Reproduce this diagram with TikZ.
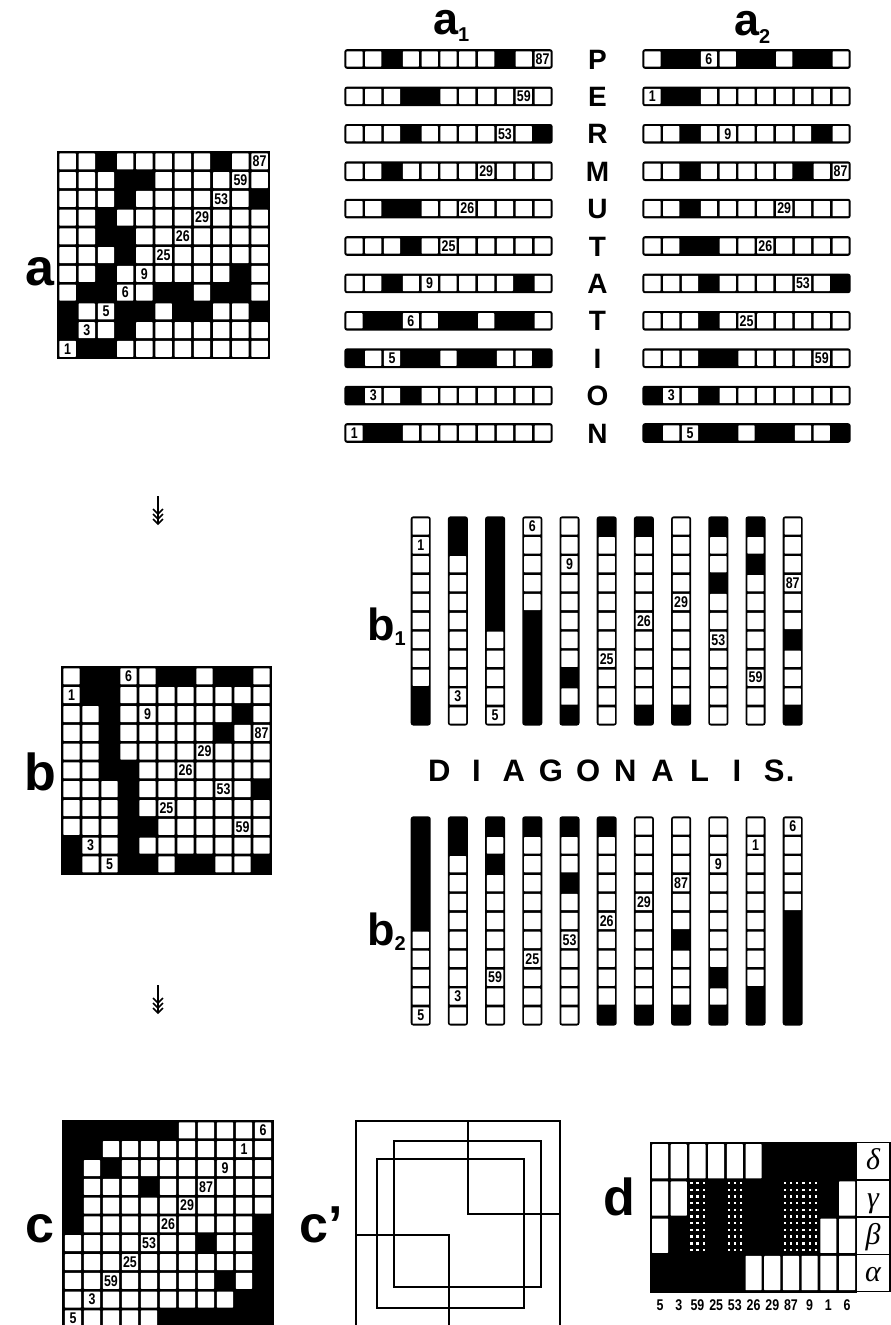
\documentclass[tikz,border=0pt]{standalone}
\usepackage{fontspec}
\setmainfont{Liberation Sans}
\newfontfamily\numfont[FakeStretch=0.8]{Liberation Sans}
\newfontfamily\grkfont{Liberation Serif}
\def\Adata{{0,0,1,0,0,0,0,0,1,0,0},{0,0,0,1,1,0,0,0,0,0,0},{0,0,0,1,0,0,0,0,0,0,1},{0,0,1,0,0,0,0,0,0,0,0},{0,0,1,1,0,0,0,0,0,0,0},{0,0,0,1,0,0,0,0,0,0,0},{0,0,1,0,0,0,0,0,0,1,0},{0,1,1,0,0,1,1,0,1,1,0},{1,0,0,1,1,0,1,1,0,0,1},{1,0,0,1,0,0,0,0,0,0,0},{0,1,1,0,0,0,0,0,0,0,0}}
\def\Bdata{{0,1,1,0,0,1,1,0,1,1,0},{0,1,1,0,0,0,0,0,0,0,0},{0,0,1,0,0,0,0,0,0,1,0},{0,0,1,0,0,0,0,0,1,0,0},{0,0,1,0,0,0,0,0,0,0,0},{0,0,1,1,0,0,0,0,0,0,0},{0,0,0,1,0,0,0,0,0,0,1},{0,0,0,1,0,0,0,0,0,0,0},{0,0,0,1,1,0,0,0,0,0,0},{1,0,0,1,0,0,0,0,0,0,0},{1,0,0,1,1,0,1,1,0,0,1}}
\def\Cdata{{1,1,1,1,1,1,0,0,0,0,0},{1,1,0,0,0,0,0,0,0,0,0},{1,0,1,0,0,0,0,0,0,0,0},{1,0,0,0,1,0,0,0,0,0,0},{1,0,0,0,0,0,0,0,0,0,0},{1,0,0,0,0,0,0,0,0,0,1},{0,0,0,0,0,0,0,1,0,0,1},{0,0,0,0,0,0,0,0,0,0,1},{0,0,0,0,0,0,0,0,1,0,1},{0,0,0,0,0,0,0,0,0,1,1},{0,0,0,0,0,1,1,1,1,1,1}}
\def\Anums{1/11/87,2/10/59,3/9/53,4/8/29,5/7/26,6/6/25,7/5/9,8/4/6,9/3/5,10/2/3,11/1/1}
\def\Bnums{1/4/6,2/1/1,3/5/9,4/11/87,5/8/29,6/7/26,7/9/53,8/6/25,9/10/59,10/2/3,11/3/5}
\def\Cnums{1/11/6,2/10/1,3/9/9,4/8/87,5/7/29,6/6/26,7/5/53,8/4/25,9/3/59,10/2/3,11/1/5}
% square grid: data, nums, x0, y0, w, h, prefix
\newcommand\drawgrid[7]{%
  \fill (#3-1.2,#4-1.2) rectangle (#3+11*#5+1.2,#4+11*#6+1.2);
  \foreach \bits [count=\rr] in #1 {
    \foreach \bt [count=\cc] in \bits {
      \ifnum\bt=0
        \fill[white,rounded corners=0.6] (#3+#5*\cc-#5+1.4,#4+#6*\rr-#6+1.4) rectangle (#3+#5*\cc-1.4,#4+#6*\rr-1.4);
      \fi
    }
  }
  \foreach \rr/\cc/\tx in #2 {
    \node[num] (#7\rr) at (#3+#5*\cc-#5/2,#4+#6*\rr-#6/2) {\tx};
  }
}
% horizontal strips: data, nums, x0, yc0, dy, w, prefix
\newcommand\drawrows[7]{%
  \foreach \bits [count=\rr] in #1 {
    \pgfmathsetmacro\yc{#4+#5*(\rr-1)}
    \fill[rounded corners=2.5] (#3-0.6,\yc-9.8) rectangle (#3+11*#6+0.6,\yc+9.8);
    \foreach \bt [count=\cc] in \bits {
      \ifnum\bt=0
        \fill[white,rounded corners=0.6] (#3+#6*\cc-#6+1.3,\yc-7.6) rectangle (#3+#6*\cc-1.3,\yc+7.6);
      \fi
    }
  }
  \foreach \rr/\cc/\tx in #2 {
    \node[num] (#7\rr) at (#3+#6*\cc-#6/2,#4+#5*\rr-#5) {\tx};
  }
}
% vertical strips: data, nums, xc0, y0, dx, h, prefix
\newcommand\drawcols[7]{%
  \foreach \cc in {1,...,11} {
    \fill[rounded corners=2.5] (#3+#5*\cc-#5-10,#4-0.6) rectangle (#3+#5*\cc-#5+10,#4+11*#6+0.6);
  }
  \foreach \bits [count=\rr] in #1 {
    \foreach \bt [count=\cc] in \bits {
      \ifnum\bt=0
        \fill[white,rounded corners=0.6] (#3+#5*\cc-#5-8.2,#4+#6*\rr-#6+1.3) rectangle (#3+#5*\cc-#5+8.2,#4+#6*\rr-1.3);
      \fi
    }
  }
  \foreach \rr/\cc/\tx in #2 {
    \node[num] (#7\rr) at (#3+#5*\cc-#5,#4+#6*\rr-#6/2) {\tx};
  }
}
\newcommand\tarrow[2]{%
  \draw[line width=1.6] (#1,#2) -- (#1,#2+28);
  \foreach \k in {0,1,2} {
    \draw[line width=1.5] (#1-5,#2+13+5*\k) -- (#1,#2+18+5*\k) -- (#1+5,#2+13+5*\k);
  }
}
\begin{document}
\begin{tikzpicture}[x=1pt,y=-1pt,
  lab/.style={font=\fontsize{52}{52}\selectfont\bfseries,inner sep=0pt,anchor=base},
  sublab/.style={font=\fontsize{45}{45}\selectfont\bfseries,inner sep=0pt,anchor=base west},
  num/.style={font=\numfont\bfseries\fontsize{15.5}{15.5}\selectfont,inner sep=0pt},
  perm/.style={font=\fontsize{28}{28}\selectfont\bfseries,inner sep=0pt,anchor=base},
  diag/.style={font=\fontsize{31}{31}\selectfont\bfseries,inner sep=0pt,anchor=base},
  grk/.style={font=\grkfont\itshape\fontsize{30}{30}\selectfont,inner sep=0pt,anchor=base},
  frame/.style={line width=2pt}]
\useasboundingbox (0,0) rectangle (891,1325);
\clip (0,0) rectangle (891,1325);

% ---- a ----
\node[lab] (la) at (40,285) {a};
\drawgrid{\Adata}{\Anums}{58}{152}{19.2}{18.75}{ga}
\node[sublab] (ha1) at (433,34) {a\raisebox{-8pt}{\fontsize{20}{20}\selectfont 1}};
\node[sublab] (ha2) at (734,35) {a\raisebox{-8pt}{\fontsize{20}{20}\selectfont 2}};
\drawrows{\Adata}{\Anums}{345}{59}{37.4}{18.82}{ra}
\drawrows{\Bdata}{\Bnums}{643}{59}{37.4}{18.82}{rb}
\foreach \lt [count=\k] in {P,E,R,M,U,T,A,T,I,O,N} {
  \node[perm] (pm\k) at (597.5,69+37.4*\k-37.4) {\lt};
}

\tarrow{158}{496}
\tarrow{158}{985}

% ---- b ----
\node[lab] (lb) at (40,790) {b};
\drawgrid{\Bdata}{\Bnums}{62}{667}{19.0}{18.8}{gb}
\node[sublab] (lb1) at (367,640) {b\raisebox{-5pt}{\fontsize{20}{20}\selectfont 1}};
\drawcols{\Bdata}{\Bnums}{420.7}{517}{37.2}{18.9}{cb}
\foreach \lt [count=\k] in {D,I,A,G,O,N,A,L,I,S} {
  \node[diag] (dg\k) at (439.3+37.2*\k-37.2,781) {\lt};
}
\node[diag,anchor=base west] (dgp) at ([xshift=1pt]dg10.base east) {.};
\node[sublab] (lb2) at (367,945) {b\raisebox{-5pt}{\fontsize{20}{20}\selectfont 2}};
\drawcols{\Cdata}{\Cnums}{420.7}{817}{37.2}{18.9}{cc}

% ---- c ----
\node[lab] (lc) at (40,1242) {c};
\drawgrid{\Cdata}{\Cnums}{63.5}{1121}{19.0}{18.8}{gc}

% ---- c' ----
\node[lab] (lcp) at (321,1242) {c’};
\draw[frame] (356,1121) rectangle (560,1330);
\draw[frame] (467.7,1121) -- (467.7,1214.3) -- (560,1214.3);
\draw[frame] (394,1140.7) rectangle (541,1287.3);
\draw[frame] (377,1159.3) rectangle (524,1308.3);
\draw[frame] (356,1235) -- (449.3,1235) -- (449.3,1330);

% ---- d ----
\node[lab] (ld) at (619,1215) {d};
\fill (649.5,1141.5) rectangle (857,1293);
\foreach \rr/\cc in {1/1,1/2,1/3,1/4,1/5,1/6,2/1,2/2,2/11,3/1,3/10,3/11,4/6,4/7,4/8,4/9,4/10,4/11} {
  \fill[white,rounded corners=0.6] (650.7+18.7*\cc-18.7+1.3,1142.7+37.25*\rr-37.25+1.5) rectangle (650.7+18.7*\cc-1.3,1142.7+37.25*\rr-1.5);
}
\foreach \cc in {3,5,8,9} {
  \foreach \k in {0,...,10} {
    \foreach \o in {3.2,9.4,15.6} {
      \fill[white] (650.7+18.7*\cc-18.7+\o-1.2,1183+6.7*\k-1.2) rectangle ++(2.4,2.4);
    }
  }
}
\foreach \rr/\g in {1/δ,2/γ,3/β,4/α} {
  \draw[line width=1.5,fill=white] (856.5,1142.7+37.25*\rr-37.25) rectangle (890,1142.7+37.25*\rr);
  \node[grk] (gk\rr) at (873,1142.7+37.25*\rr-18.6+8.5) {\g};
}
\foreach \tx [count=\cc] in {5,3,59,25,53,26,29,87,9,1,6} {
  \node[num,anchor=base] (dn\cc) at (650.7+18.7*\cc-9.35,1310) {\tx};
}
\end{tikzpicture}
\end{document}
